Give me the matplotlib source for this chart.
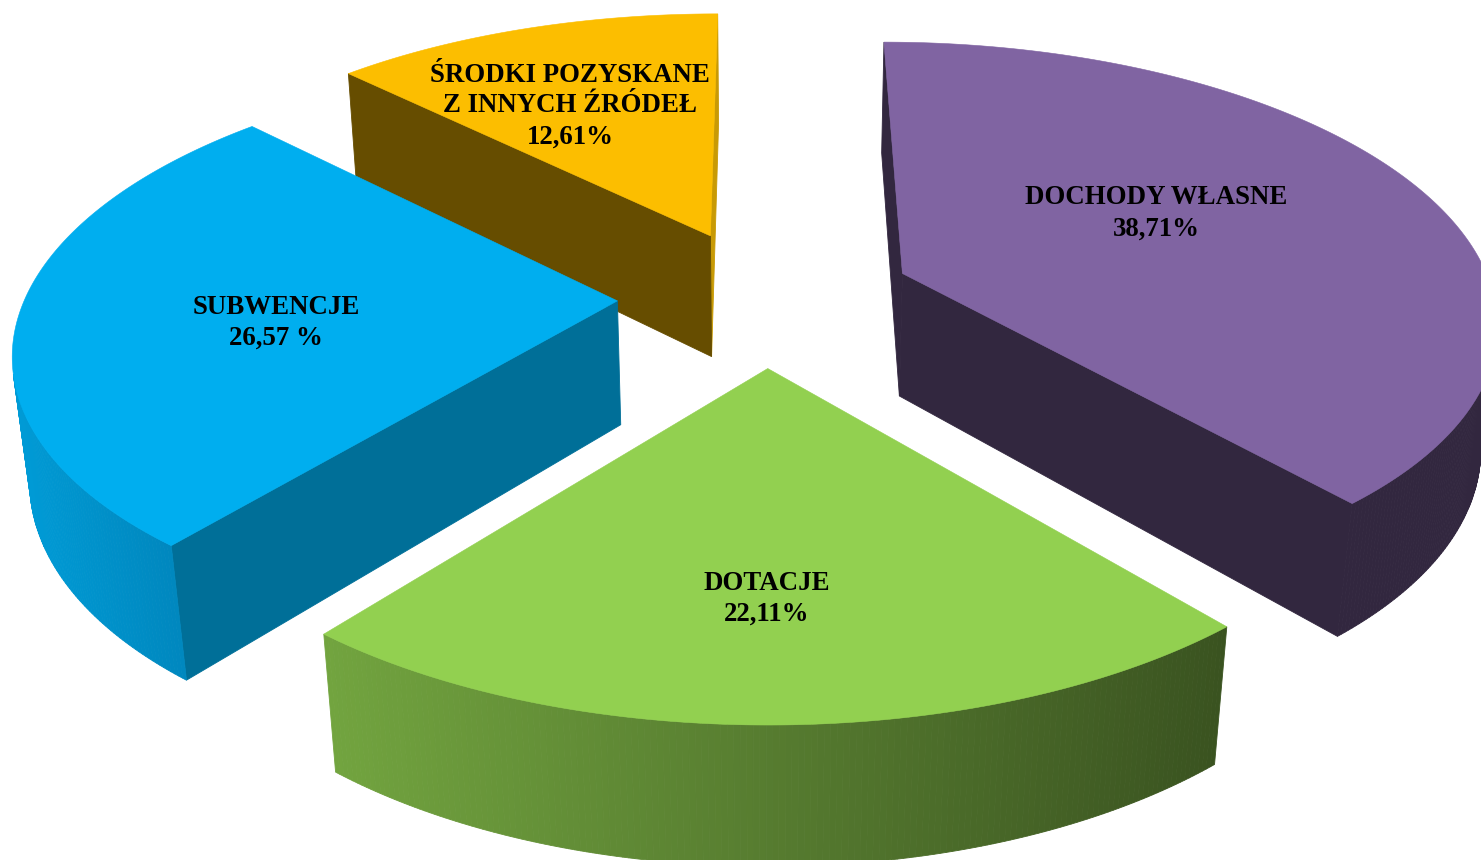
import numpy as np
import matplotlib
matplotlib.use("Agg")
import matplotlib.pyplot as plt
from matplotlib.colors import to_rgb

# Data
categories = ["DOCHODY WŁASNE", "DOTACJE", "SUBWENCJE", "ŚRODKI POZYSKANE\nZ INNYCH ŹRÓDEŁ"]
values = [38.71, 22.11, 26.57, 12.61]
value_labels = ["38,71%", "22,11%", "26,57 %", "12,61%"]

# Styles
top_colors = ["#8064A2", "#92D050", "#00AEEF", "#FCBE00"]
start_colors = ["#32273F", "#3A5320", "#006F98", "#664D00"]
end_colors = ["#32273F", "#72A43F", "#006F98", "#C89A05"]
rim_left = ["#32273F", "#72A43F", "#009BD6", "#664D00"]
rim_right = ["#32273F", "#3A5320", "#0088BF", "#664D00"]
label_xy = [(1156, 198), (767, 583), (276, 307), (570, 75)]
draw_order = [3, 0, 2, 1]

# Perspective camera, in pixels
CX, CY = 765.5, 297.0
A, B, K = 148.0, 68.7, 0.0395
Q, H = 0.023, 126.5
RADIUS, EXPLODE = 4.0, 1.0
LINE_H = 31


def project(X, Y, bottom=False):
    w = 1 + K * Y + (Q if bottom else 0)
    sx = CX + A * X / w
    sy = CY + (-B * Y + (H if bottom else 0)) / w
    return sx, sy


def area(pts):
    p = np.asarray(pts)
    x, y = p[:, 0], p[:, 1]
    return 0.5 * np.sum(x * np.roll(y, -1) - np.roll(x, -1) * y)


fig = plt.figure(figsize=(14.81, 8.60), dpi=100, facecolor="white")
ax = fig.add_axes([0, 0, 1, 1])
ax.set_xlim(0, 1481)
ax.set_ylim(860, 0)
ax.axis("off")

edges = np.concatenate([[0], np.cumsum(values)]) / np.sum(values) * 2 * np.pi

for i in draw_order:
    t0, t1 = edges[i], edges[i + 1]
    mid = (t0 + t1) / 2
    ox, oy = EXPLODE * np.sin(mid), EXPLODE * np.cos(mid)
    th = np.linspace(t0, t1, max(int(np.degrees(t1 - t0) * 2), 2))
    X = np.concatenate([[ox], ox + RADIUS * np.sin(th)])
    Y = np.concatenate([[oy], oy + RADIUS * np.cos(th)])
    tx, ty = project(X, Y)
    bx, by = project(X, Y, True)
    n = len(X)
    quads = []
    for a in range(n):
        b = (a + 1) % n
        q = [(tx[a], ty[a]), (tx[b], ty[b]), (bx[b], by[b]), (bx[a], by[a])]
        if area(q) < 0:
            quads.append((a, q))
    rim_xs = [np.mean([p[0] for p in q]) for a, q in quads if 0 < a < n - 1]
    xmin, xmax = (min(rim_xs), max(rim_xs)) if rim_xs else (0, 1)
    cl, cr = np.array(to_rgb(rim_left[i])), np.array(to_rgb(rim_right[i]))
    # back faces first
    quads.sort(key=lambda it: np.mean([p[1] for p in it[1]]))
    for a, q in quads:
        if a == 0:
            c = start_colors[i]
        elif a == n - 1:
            c = end_colors[i]
        else:
            f = (np.mean([p[0] for p in q]) - xmin) / max(xmax - xmin, 1e-6)
            c = tuple(cl + (cr - cl) * f)
        ax.fill(*zip(*q), facecolor=c, edgecolor=c, linewidth=0.6, zorder=1)
    ax.fill(tx, ty, facecolor=top_colors[i], edgecolor=top_colors[i], linewidth=0.4, zorder=1)

for i in range(len(categories)):
    lines = categories[i].split("\n") + [value_labels[i]]
    x, y = label_xy[i]
    for j, line in enumerate(lines):
        ax.text(x, y + j * LINE_H, line, ha="center", va="center", color="black",
                family="Liberation Serif", fontweight="bold", fontsize=19.4, zorder=5)

fig.savefig("out.png", dpi=100, facecolor="white")
